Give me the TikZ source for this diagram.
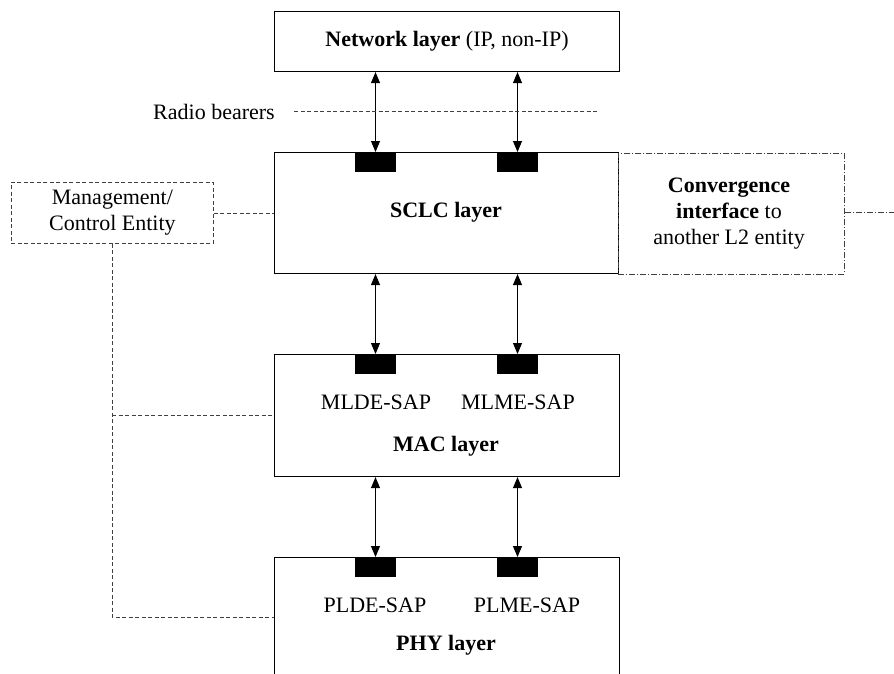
\documentclass[tikz,border=0pt]{standalone}
\usepackage{fontspec}
\setmainfont{Liberation Serif}
\usetikzlibrary{arrows.meta,calc}
\begin{document}
\begin{tikzpicture}[x=1pt,y=-1pt,
  font=\fontsize{22}{26}\selectfont,
  layerbox/.style={draw,line width=1.1pt,inner sep=0pt,anchor=north west},
  sapblk/.style={fill=black,draw=none,minimum width=41pt,minimum height=20pt,inner sep=0pt,anchor=north},
  dualarrow/.style={line width=0.9pt,{Triangle[length=11pt,width=9pt]}-{Triangle[length=11pt,width=9pt]}},
  mgmtline/.style={draw=black!75,line width=0.8pt,dash pattern=on 4pt off 2.5pt},
  convline/.style={draw=black!75,line width=0.8pt,dash pattern=on 6pt off 2pt on 1pt off 2pt},
  txt/.style={inner sep=0pt,align=center}]
\useasboundingbox (0,0) rectangle (894,673);
\clip (0,0) rectangle (894,673);

% layer boxes
\node[layerbox,minimum width=345pt,minimum height=60pt] (net) at (274,11) {};
\node[layerbox,minimum width=344pt,minimum height=121pt] (sclc) at (274,152) {};
\node[layerbox,minimum width=345pt,minimum height=122pt] (mac) at (274,354) {};
\node[layerbox,minimum width=345pt,minimum height=140pt] (phy) at (274,557) {};

% convergence and management boxes
\node[convline,inner sep=0pt,anchor=north west,minimum width=226pt,minimum height=121pt] (conv) at (618,153) {};
\node[mgmtline,inner sep=0pt,anchor=north west,minimum width=202pt,minimum height=61pt] (mgmt) at (11,182) {};

% texts
\node[txt] (nettxt) at (net.center) {\textbf{Network layer} (IP, non-IP)};
\node[txt] (sclctxt) at (446,212) {\textbf{SCLC layer}};
\node[txt] (convtxt) at (729,214) {\textbf{Convergence}\\\textbf{interface} to\\another L2 entity};
\node[txt] (mgmttxt) at (mgmt.center) {Management/\\Control Entity};
\node[txt] (mldetxt) at (376,402) {MLDE-SAP};
\node[txt] (mlmetxt) at (518,402) {MLME-SAP};
\node[txt] (mactxt) at (446,446) {\textbf{MAC layer}};
\node[txt] (pldetxt) at (375,605) {PLDE-SAP};
\node[txt] (plmetxt) at (527,605) {PLME-SAP};
\node[txt] (phytxt) at (446,645) {\textbf{PHY layer}};
\node[txt] (rb) at (214,112) {Radio bearers};

% SAP blocks
\node[sapblk] (s1a) at (375.5,152) {};
\node[sapblk] (s1b) at (517.5,152) {};
\node[sapblk] (s2a) at (375.5,354) {};
\node[sapblk] (s2b) at (517.5,354) {};
\node[sapblk] (s3a) at (375.5,557) {};
\node[sapblk] (s3b) at (517.5,557) {};

% arrows
\draw[dualarrow] (net.south -| s1a.north) -- (s1a.north);
\draw[dualarrow] (net.south -| s1b.north) -- (s1b.north);
\draw[dualarrow] (sclc.south -| s2a.north) -- (s2a.north);
\draw[dualarrow] (sclc.south -| s2b.north) -- (s2b.north);
\draw[dualarrow] (mac.south -| s3a.north) -- (s3a.north);
\draw[dualarrow] (mac.south -| s3b.north) -- (s3b.north);

% radio bearers line
\coordinate (rbA) at (294,111);
\coordinate (rbB) at (597,111);
\draw[mgmtline,line width=0.7pt] (rbA) -- (rbB);

% management connections
\coordinate (mgmtdown) at (112,617);
\coordinate (macjoin) at (112,415);
\draw[mgmtline] (mgmt.east) -- (mgmt.east -| sclc.west);
\draw[mgmtline] (mgmt.south -| mgmtdown) -- (mgmtdown) -- (mgmtdown -| phy.west);
\draw[mgmtline] (macjoin) -- (macjoin -| mac.west);

% convergence outward line
\coordinate (convout) at (894,212);
\draw[convline] (conv.east |- convout) -- (convout);
\end{tikzpicture}
\end{document}
